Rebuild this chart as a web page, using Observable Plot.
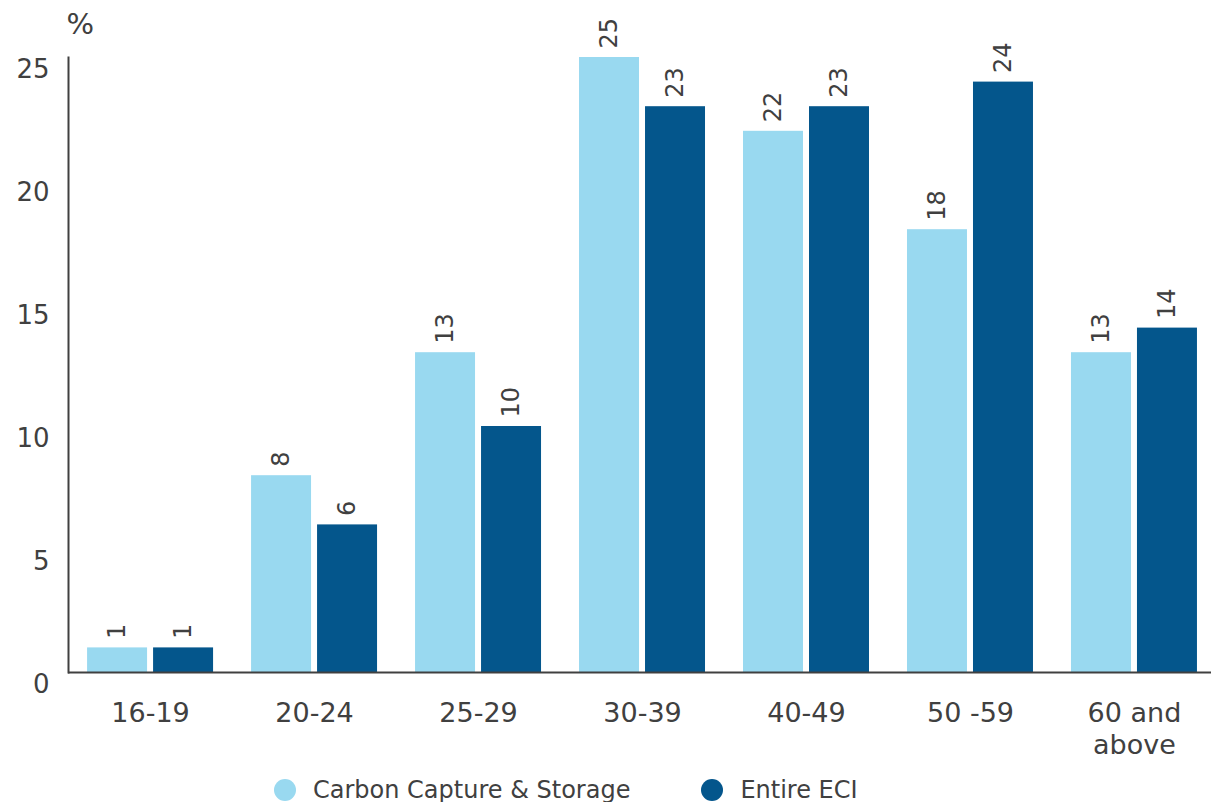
<!DOCTYPE html>
<html>
<head>
<meta charset="utf-8">
<script src="https://cdn.jsdelivr.net/npm/d3@7"></script>
<script src="https://cdn.jsdelivr.net/npm/@observablehq/plot@0.6"></script>
<style>
  html, body { margin: 0; padding: 0; background: #ffffff; }
  body { font-family: "DejaVu Sans", Verdana, sans-serif; color: #404040; }
  #chart { width: 1211px; }
  .legend { display: flex; align-items: center; margin: 13px 0 0 274px; font-size: 24px; line-height: 24px; }
  .legend .item { display: flex; align-items: center; margin-right: 71px; }
  .legend .dot { width: 22px; height: 22px; border-radius: 50%; margin-right: 17px; }
</style>
</head>
<body>
<div id="chart"></div>
<script>
// Age distribution of the workforce, in percent
const ageGroups = ["16-19", "20-24", "25-29", "30-39", "40-49", "50 -59", "60 and above"];
const carbonCapture = [1, 8, 13, 25, 22, 18, 13];
const entireECI = [1, 6, 10, 23, 23, 24, 14];
const seriesNames = ["Carbon Capture & Storage", "Entire ECI"];
const seriesColors = ["#99d9f0", "#04568c"];
const yTicks = [0, 5, 10, 15, 20, 25];

const rows = ageGroups.flatMap((age, i) => [
  {age, series: seriesNames[0], value: carbonCapture[i]},
  {age, series: seriesNames[1], value: entireECI[i]}
]);
const ccsRows = rows.filter(d => d.series === seriesNames[0]);
const eciRows = rows.filter(d => d.series === seriesNames[1]);

const textColor = "#404040";

const chart = Plot.plot({
  width: 1211,
  height: 765,
  marginLeft: 68,
  marginRight: 0,
  marginTop: 57,
  marginBottom: 93,
  style: {fontFamily: "'DejaVu Sans', Verdana, sans-serif", fontSize: "26px", color: textColor, background: "#ffffff"},
  x: {domain: ageGroups, paddingInner: 0.2317, paddingOuter: 0.101, align: 0.576, round: false},
  y: {domain: [0, 25]},
  color: {domain: seriesNames, range: seriesColors},
  marks: [
    // left-hand bar of each pair: Carbon Capture & Storage
    Plot.barY(ccsRows, {x: "age", y: "value", fill: "series", insetRight: 66}),
    // right-hand bar of each pair: Entire ECI
    Plot.barY(eciRows, {x: "age", y: "value", fill: "series", insetLeft: 66}),
    // rotated value labels above the bars
    Plot.text(ccsRows, {x: "age", y: "value", text: d => String(d.value), rotate: -90, textAnchor: "start",
      dx: -33, dy: -9, fontSize: 24, fill: textColor}),
    Plot.text(eciRows, {x: "age", y: "value", text: d => String(d.value), rotate: -90, textAnchor: "start",
      dx: 33, dy: -9, fontSize: 24, fill: textColor}),
    Plot.axisY({ticks: yTicks, tickSize: 0, tickPadding: 19, dy: 12, label: null, fill: textColor}),
    Plot.axisX({tickSize: 0, tickPadding: 26, label: null, fill: textColor, lineHeight: 1.2, fontSize: 27,
      tickFormat: d => d === "60 and above" ? "60 and\nabove" : d}),
    Plot.frame({anchor: "left", stroke: textColor, strokeWidth: 2}),
    Plot.ruleY([0], {stroke: textColor, strokeWidth: 2}),
    // unit label above the y axis
    Plot.text(["%"], {frameAnchor: "top-left", lineAnchor: "middle", dx: -2, dy: -33, fontSize: 29, fill: textColor})
  ]
});
document.getElementById("chart").appendChild(chart);

// legend below the chart
const legend = document.createElement("div");
legend.className = "legend";
seriesNames.forEach((name, i) => {
  const item = document.createElement("div");
  item.className = "item";
  const dot = document.createElement("span");
  dot.className = "dot";
  dot.style.background = seriesColors[i];
  const label = document.createElement("span");
  label.textContent = name;
  item.appendChild(dot);
  item.appendChild(label);
  legend.appendChild(item);
});
document.getElementById("chart").appendChild(legend);
</script>
</body>
</html>
